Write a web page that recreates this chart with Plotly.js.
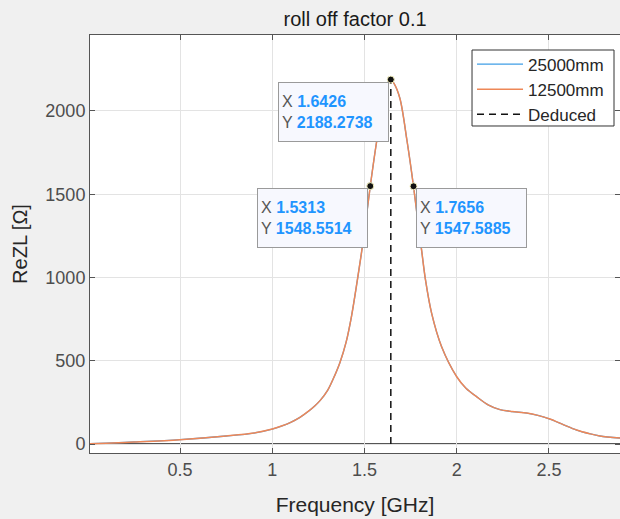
<!DOCTYPE html>
<html>
<head>
<meta charset="utf-8">
<script src="https://cdn.plot.ly/plotly-3.0.1.min.js"></script>
<style>
html,body{margin:0;padding:0;background:#f0f0f0;}
#chart{width:620px;height:519px;}
</style>
</head>
<body>
<div id="chart"></div>
<script>
// Frequency [GHz]
var freq = [0.012, 0.1, 0.25, 0.5, 0.75, 0.9, 1.0, 1.05, 1.1, 1.15, 1.2, 1.23, 1.26, 1.3, 1.33, 1.367, 1.4, 1.43, 1.46, 1.4936, 1.5313, 1.567, 1.6, 1.625, 1.6426, 1.66, 1.692, 1.73, 1.7656, 1.79, 1.81, 1.83, 1.864, 1.918, 2.0, 2.05, 2.11, 2.17, 2.23, 2.3, 2.38, 2.44, 2.505, 2.58, 2.65, 2.72, 2.776, 2.885];
// ReZL [Ohm], 12500mm
var rez12500 = [2, 5, 12, 26, 48, 66, 90, 108, 130, 160, 200, 228, 262, 322, 390, 490, 610, 770, 975, 1225, 1548.55, 1824, 2030, 2150, 2188.27, 2165, 2075, 1824, 1547.59, 1330, 1160, 990, 784, 584, 404, 335, 282, 235, 208, 195, 186, 172, 150, 115, 84, 62, 48, 36];
// ReZL [Ohm], 25000mm (hidden under the 12500mm curve)
var rez25000 = rez12500.slice();
// Deduced resonance line
var dedX = [1.6426, 1.6426];
var dedY = [0, 2188.2738];
// Datatips
var tipX = [1.5313, 1.6426, 1.7656];
var tipY = [1548.5514, 2188.2738, 1547.5885];
var tipXLabel = ['1.5313', '1.6426', '1.7656'];
var tipYLabel = ['1548.5514', '2188.2738', '1547.5885'];
var tipSide = ['left', 'left', 'right'];
var yTicks = [0, 500, 1000, 1500, 2000];
var xTicks = [0.5, 1, 1.5, 2, 2.5];

var traces = [
  {x: freq, y: rez25000, name: '25000mm', mode: 'lines', line: {color: '#3f9ee6', width: 1.3, shape: 'spline', smoothing: 0.9}},
  {x: freq, y: rez12500, name: '12500mm', mode: 'lines', line: {color: '#ee8757', width: 1.5, shape: 'spline', smoothing: 0.9}},
  {x: dedX, y: dedY, name: 'Deduced', mode: 'lines', line: {color: '#111111', width: 1.5, dash: '7px,5px'}},
  {x: tipX, y: tipY, mode: 'markers', showlegend: false, hoverinfo: 'skip',
   marker: {color: '#111111', size: 7, line: {color: '#f6f2c0', width: 1}}}
];

var annotations = tipX.map(function(xv, i) {
  var left = tipSide[i] === 'left';
  return {
    x: xv, y: tipY[i], xref: 'x', yref: 'y', showarrow: false,
    xanchor: left ? 'right' : 'left', yanchor: 'top',
    xshift: left ? -2 : 2, yshift: -2,
    align: 'left', valign: 'middle',
    width: 103, height: 52, borderpad: 3,
    bgcolor: '#f7f8fe', bordercolor: '#9a9a9a', borderwidth: 1,
    font: {family: 'Liberation Sans, Arial, sans-serif', size: 16, color: '#555555'},
    text: 'X <b style="color:#1f95ff">' + tipXLabel[i] + '</b><br>Y <b style="color:#1f95ff">' + tipYLabel[i] + '</b>'
  };
});

var layout = {
  width: 620, height: 519,
  margin: {l: 90, r: 0, t: 35, b: 66},
  paper_bgcolor: '#f0f0f0', plot_bgcolor: '#ffffff',
  font: {family: 'Liberation Sans, Arial, sans-serif', color: '#262626'},
  title: {text: 'roll off factor 0.1', x: 0.5727, xanchor: 'center', y: 0.964, yanchor: 'middle',
          font: {size: 20, color: '#1a1a1a'}},
  xaxis: {
    range: [0.012, 2.885], tickvals: xTicks, ticktext: xTicks.map(String),
    showgrid: true, gridcolor: '#e3e3e3', gridwidth: 1, zeroline: false,
    showline: true, linecolor: '#555555', linewidth: 1, mirror: 'ticks',
    ticks: 'inside', ticklen: 5, tickcolor: '#555555',
    tickfont: {size: 18, color: '#4d4d4d'},
    title: {text: 'Frequency [GHz]', font: {size: 21, color: '#262626'}, standoff: 18}
  },
  yaxis: {
    range: [-54, 2456], tickvals: yTicks, ticktext: yTicks.map(String),
    showgrid: true, gridcolor: '#e3e3e3', gridwidth: 1, zeroline: false,
    showline: true, linecolor: '#555555', linewidth: 1, mirror: 'ticks',
    ticks: 'inside', ticklen: 5, tickcolor: '#555555',
    tickfont: {size: 18, color: '#4d4d4d'},
    title: {text: 'ReZL [Ω]', font: {size: 20, color: '#262626'}, standoff: 12}
  },
  legend: {
    x: 0.7208, y: 0.9725, xanchor: 'left', yanchor: 'top',
    bgcolor: 'rgba(0,0,0,0)', borderwidth: 0,
    font: {size: 17, color: '#262626'}, tracegroupgap: 0, itemwidth: 46
  },
  shapes: [
    {type: 'line', xref: 'paper', yref: 'y', x0: 0, x1: 1, y0: 0, y1: 0,
     line: {color: '#555555', width: 2}, layer: 'below'},
    {type: 'rect', xref: 'paper', yref: 'paper', x0: 0.7208, x1: 0.9887, y0: 0.7823, y1: 0.9641,
     fillcolor: '#ffffff', line: {color: '#333333', width: 1}, layer: 'above'}
  ],
  annotations: annotations,
  showlegend: true
};

Plotly.newPlot('chart', traces, layout, {displayModeBar: false, staticPlot: true});
</script>
</body>
</html>
